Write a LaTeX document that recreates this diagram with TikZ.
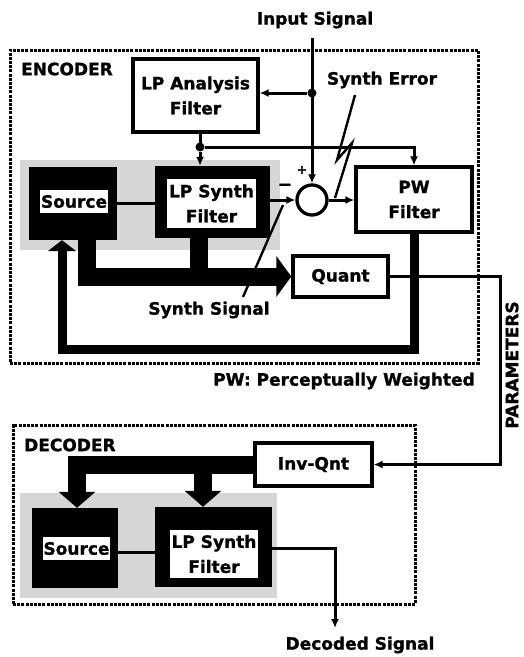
\documentclass[tikz,border=0pt]{standalone}
\usepackage{fontspec}
\setmainfont{DejaVu Sans}[BoldFeatures={FakeBold=1.2}]
\usetikzlibrary{arrows.meta,calc}
\begin{document}
\begin{tikzpicture}[x=1pt,y=-1pt,
  every node/.style={font=\bfseries\fontsize{17}{25}\selectfont, inner sep=0pt},
  box/.style={draw, line width=3.3pt, fill=white, align=center},
  blk/.style={fill=black},
  lbl/.style={fill=white, align=center},
  frame/.style={draw, line width=3pt, dash pattern=on 3pt off 1.2pt},
  sig/.style={line width=3pt},
  sarr/.style={sig, -{Latex[length=9pt,width=8pt]}},
  bus/.style={line width=18pt, line join=miter},
  busarr/.style={bus, -{Triangle[length=15pt,width=40pt]}},
  dbusarr/.style={bus, -{Triangle[length=16pt,width=36pt]}},
  fb/.style={line width=9pt, line join=miter, -{Triangle[length=11pt,width=28pt]}},
  shade/.style={fill=black!16},
  dot/.style={circle, fill=black, minimum size=9pt},
  leader/.style={line width=2.4pt}
]
\useasboundingbox (0,0) rectangle (524,657);
\fill[white] (0,0) rectangle (524,657);

% shaded backgrounds
\fill[shade] (20,160) rectangle (280,250);
\fill[shade] (20,493) rectangle (277,598);

% frames
\node[frame, minimum width=468pt, minimum height=313pt] (encf) at (244,206.5) {};
\node[frame, minimum width=402pt, minimum height=179pt] (decf) at (214,514.5) {};
\node[anchor=west] (enc) at (21,69) {ENCODER};
\node[anchor=west] (dec) at (24,445) {DECODER};

% encoder blocks
\node[box, minimum width=125pt, minimum height=73pt] (lpa) at (195.5,95.5) {LP Analysis\\Filter};
\node[blk, minimum width=88pt, minimum height=73pt] (src) at (73,203.5) {};
\node[lbl, minimum width=68pt, minimum height=23pt] (srcl) at (74,201.5) {Source};
\node[blk, minimum width=115pt, minimum height=72pt] (lps) at (212.5,202) {};
\node[lbl, minimum width=89pt, minimum height=49pt] (lpsl) at (211.5,203.5) {LP Synth\\Filter};
\node[draw, circle, line width=3.3pt, minimum size=30pt, fill=white] (sum) at (312,200) {};
\node[box, minimum width=116pt, minimum height=65pt] (pw) at (414,199.5) {PW\\Filter};
\node[box, minimum width=95pt, minimum height=41pt] (quant) at (340.5,276.5) {Quant};

% decoder blocks
\node[box, minimum width=117pt, minimum height=43pt] (iq) at (313.5,464.5) {Inv-Qnt};
\node[blk, minimum width=86pt, minimum height=80pt] (dsrc) at (75,548) {};
\node[lbl, minimum width=67pt, minimum height=23pt] (dsrcl) at (76.5,548.5) {Source};
\node[blk, minimum width=117pt, minimum height=80pt] (dlps) at (213.5,547) {};
\node[lbl, minimum width=88pt, minimum height=48pt] (dlpsl) at (214,554) {LP Synth\\Filter};

% coordinates
\coordinate (in) at (312,38);
\coordinate (j2c) at (200,147);
\coordinate (bl) at (87,276.5);
\coordinate (lpleg) at (199,276.5);
\coordinate (fbl) at (62,349);
\coordinate (qc) at (500,276.5);
\coordinate (ic) at (500,464.5);
\coordinate (dbl) at (77,464.5);
\coordinate (dml) at (203,464.5);
\coordinate (oc) at (335,548);
\coordinate (oe) at (335,628);

% encoder buses
\draw[busarr] (src.south -| bl) -- (bl) -- (quant.west);
\draw[bus] (lps.south -| lpleg) -- (lpleg);
\draw[fb] (pw.south) -- (pw.south |- fbl) -- (fbl) -- (src.south -| fbl);

% encoder signals
\draw[sarr] (in) -- (sum.north);
\node[dot] (j1) at (312,93) {};
\draw[sarr] (j1) -- (j1 -| lpa.east);
\draw[sig] (lpa.south -| j2c) -- (j2c);
\node[dot] (j2) at (j2c) {};
\draw[sarr] (j2) -- (lps.north -| j2c);
\draw[sarr] (j2) -- (j2c -| pw.north) -- (pw.north);
\draw[sig] (src.east) -- (src.east -| lps.west);
\draw[sarr] (lps.east |- sum.west) -- (sum.west);
\draw[sarr] (sum.east) -- (pw.west |- sum.east);
\draw[sarr] (quant.east) -- (qc) -- (ic) -- (iq.east);

% decoder
\draw[dbusarr] (iq.west) -- (dbl) -- (dsrc.north -| dbl);
\draw[dbusarr] (dml) -- (dlps.north -| dml);
\draw[sig] (dsrc.east |- 0,552) -- (dlps.west |- 0,552);
\draw[sarr] (dlps.east |- oc) -- (oc) -- (oe);

% labels
\node (ins) at (315,20) {Input Signal};
\node (se) at (382,80) {Synth Error};
\node (ss) at (209,310) {Synth Signal};
\node (pwl) at (344,381) {PW: Perceptually Weighted};
\node[rotate=90] (par) at (512,365) {PARAMETERS};
\node (ds) at (360,645) {Decoded Signal};
\node[font=\bfseries\fontsize{12}{12}\selectfont] (plus) at (302,170) {+};
\node (minus) at (285,187) {−};

% leaders
\coordinate (a1) at (355,95);
\coordinate (a2) at (337,160);
\coordinate (a3) at (352,143);
\coordinate (a4) at (335,198);
\draw[leader] (a1) -- (a2) -- (a3) -- (a4);
\coordinate (b1) at (243,297);
\coordinate (b2) at (283,205);
\draw[leader] (b1) -- (b2);
\end{tikzpicture}
\end{document}
